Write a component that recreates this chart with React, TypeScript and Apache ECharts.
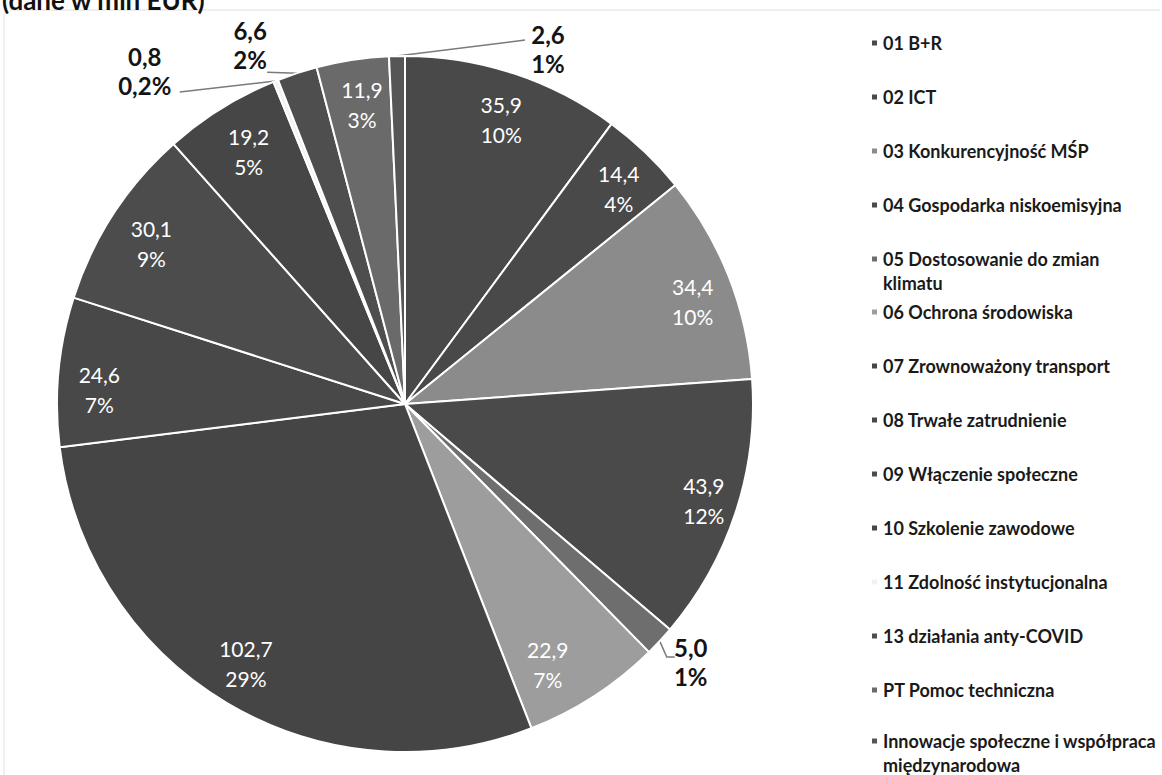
import React, { useEffect, useRef } from "react";
import * as echarts from "echarts";

// ---- data ----
const categories: string[] = [
  "01 B+R",
  "02 ICT",
  "03 Konkurencyjność MŚP",
  "04 Gospodarka niskoemisyjna",
  "05 Dostosowanie do zmian klimatu",
  "06 Ochrona środowiska",
  "07 Zrownoważony transport",
  "08 Trwałe zatrudnienie",
  "09 Włączenie społeczne",
  "10 Szkolenie zawodowe",
  "11 Zdolność instytucjonalna",
  "13 działania anty-COVID",
  "PT Pomoc techniczna",
  "Innowacje społeczne i współpraca międzynarodowa",
];
const values: number[] = [35.9, 14.4, 34.4, 43.9, 5.0, 22.9, 102.7, 24.6, 30.1, 19.2, 0.8, 6.6, 11.9, 2.6];
// shares as printed on the chart (percent)
const shares: number[] = [10, 4, 10, 12, 1, 7, 29, 7, 9, 5, 0.2, 2, 3, 1];
const sliceColors: string[] = [
  "#494949", "#494949", "#8b8b8b", "#4a4a4a", "#6e6e6e", "#9d9d9d", "#454545",
  "#484848", "#4c4c4c", "#464646", "#f2f2f2", "#4e4e4e", "#6a6a6a", "#565656",
];
const outsideIdx: number[] = [4, 10, 11, 13];
const titleText = "(dane w mln EUR)";

// ---- style / placement ----
// outside labels: offsets relative to the slice edge point the library computes
const outsideLayout: Record<number, { label: [number, number]; line: [number, number][] }> = {
  4: { label: [31, 21], line: [[0, 0], [7, 16], [15, 16]] },
  10: { label: [-131, -10], line: [[0, 0], [-96, 11]] },
  11: { label: [-47, -28], line: [[0, 0], [-30, -1]] },
  13: { label: [151, -7], line: [[0, 0], [128, -16]] },
};
// small nudges of the inside labels (pixels)
const insideNudge: [number, number][] = [
  [1, 5], [3, 5], [4, 10], [9, 1], [0, 0], [-23, 4], [-3, -3],
  [-2, 14], [2, 6], [5, 6], [0, 0], [0, 0], [3, 2], [0, 0],
];

const fmtNum = (v: number) =>
  (Number.isInteger(v) ? String(v) : v.toFixed(1)).replace(".", ",");
const valueFormatter = (p: any) => `${p.value.toFixed(1).replace(".", ",")}\n${fmtNum(shares[p.dataIndex])}%`;
const legendFormatter = (name: string) =>
  name.replace(" klimatu", "\nklimatu").replace(" międzynarodowa", "\nmiędzynarodowa");

export default function App() {
  const ref = useRef<HTMLDivElement>(null);
  useEffect(() => {
    if (!ref.current) return;
    const chart = echarts.init(ref.current, undefined, { renderer: "svg" });
    const center = [405, 404];
    const R = 348;
    const legendCommon = {
      orient: "vertical",
      left: 870,
      padding: 0,
      icon: "rect",
      itemWidth: 7,
      itemHeight: 7,
      itemGap: 30,
      formatter: legendFormatter,
      selectedMode: false,
      textStyle: {
        fontFamily: "Lato",
        fontWeight: "bold",
        fontSize: 18,
        color: "#1a1a1a",
        lineHeight: 24,
      },
    };
    // two-line entries: square marker aligned with the first text line
    const twoLine = {
      itemHeight: 31,
      icon: "path://M0,0h7v7h-7zM3.45,30.9h0.1v0.1h-0.1z",
      height: 60,
    };
    chart.setOption({
      animation: false,
      backgroundColor: "#ffffff",
      legend: [
        { ...legendCommon, top: 31, data: categories.slice(0, 4) },
        { ...legendCommon, ...twoLine, top: 247, data: categories.slice(4, 5) },
        { ...legendCommon, top: 300, data: categories.slice(5, 13) },
        { ...legendCommon, ...twoLine, top: 729, data: categories.slice(13) },
      ],
      graphic: [
        { type: "line", shape: { x1: 10, y1: 10, x2: 1160, y2: 10 }, style: { stroke: "#dedede", lineWidth: 1 }, silent: true },
        { type: "line", shape: { x1: 4, y1: 14, x2: 4, y2: 775 }, style: { stroke: "#e2e2e2", lineWidth: 1 }, silent: true },
        {
          type: "text",
          left: 2,
          top: -13,
          silent: true,
          style: { text: titleText, font: "bold 26px Lato", fill: "#111" },
        },
      ],
      series: [
        {
          type: "pie",
          name: "main",
          center,
          radius: R,
          startAngle: 90,
          clockwise: true,
          avoidLabelOverlap: false,
          emphasis: { disabled: true },
          itemStyle: { borderColor: "#ffffff", borderWidth: 2 },
          label: {
            show: false,
            formatter: valueFormatter,
            fontFamily: "Lato",
            fontWeight: "bold",
            fontSize: 24,
            lineHeight: 29,
            color: "#141414",
          },
          labelLine: { show: false, lineStyle: { color: "#7a7a7a", width: 1.5 } },
          labelLayout: (params: any) => {
            const spec = outsideLayout[params.dataIndex];
            const pts = params.labelLinePoints;
            if (!spec || !pts || !pts.length) return {};
            const px = pts[0][0];
            const py = pts[0][1];
            return {
              x: px + spec.label[0],
              y: py + spec.label[1],
              align: "center",
              verticalAlign: "middle",
              labelLinePoints: spec.line.map(([dx, dy]) => [px + dx, py + dy]),
            };
          },
          data: values.map((v, i) => {
            const outside = outsideIdx.includes(i);
            return {
              name: categories[i],
              value: v,
              itemStyle: { color: sliceColors[i] },
              label: outside ? { show: true, position: "outside" } : { show: false },
              labelLine: outside ? { show: true } : { show: false },
            };
          }),
        },
        {
          type: "pie",
          name: "labels",
          center,
          radius: [256, R],
          startAngle: 90,
          clockwise: true,
          silent: true,
          avoidLabelOverlap: false,
          emphasis: { disabled: true },
          itemStyle: { color: "rgba(0,0,0,0)", borderWidth: 0 },
          label: {
            show: true,
            position: "inside",
            formatter: valueFormatter,
            fontFamily: "Lato",
            fontSize: 21,
            lineHeight: 30,
            color: "#ffffff",
          },
          labelLine: { show: false },
          data: values.map((v, i) => ({
            name: categories[i],
            value: v,
            label: { show: !outsideIdx.includes(i), offset: insideNudge[i] },
          })),
        },
      ],
    });
    return () => chart.dispose();
  }, []);
  return (
    <div
      ref={ref}
      style={{ position: "fixed", left: 0, top: 0, width: 1162, height: 775, background: "#fff" }}
    />
  );
}
